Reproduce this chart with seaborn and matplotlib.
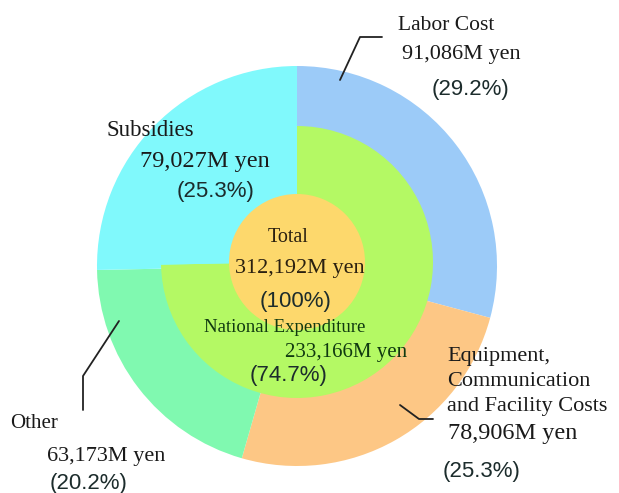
import matplotlib
matplotlib.use("Agg")
import matplotlib.pyplot as plt
import seaborn as sns

# ---- data ----
outer_labels = ["Labor Cost", "Equipment, Communication and Facility Costs", "Other", "Subsidies"]
outer_values = [91086, 78906, 63173, 79027]          # M yen
outer_pcts = [29.2, 25.3, 20.2, 25.3]
inner_labels = ["National Expenditure", "Subsidies"]
inner_values = [233166, 79027]
inner_pcts = [74.7, 25.3]
total_value = 312192
total_pct = 100

outer_colors = ["#9ccbf8", "#fdc785", "#80f9b0", "#80f9fc"]
inner_colors = ["#b4f964", "#80f9fc"]
center_color = "#fdd86c"

sns.set_theme(style="white")
plt.rcParams["font.family"] = ["Liberation Serif", "DejaVu Serif"]

W, H = 619, 493
fig = plt.figure(figsize=(W / 100, H / 100), dpi=100)
ax = fig.add_axes([0, 0, 1, 1])

def Y(y):
    return H - y

cx, cy = 297, 266
R = 200
icx, icy = 297, 262
Ri = 136
Rc = 68

ax.pie(outer_values, colors=outer_colors, startangle=90, counterclock=False,
       radius=R, center=(cx, Y(cy)), wedgeprops=dict(linewidth=0))
ax.pie(inner_values, colors=inner_colors, startangle=90, counterclock=False,
       radius=Ri, center=(icx, Y(icy)), wedgeprops=dict(width=Ri - Rc + 1, linewidth=0))
ax.pie([total_value], colors=[center_color], startangle=90, counterclock=False,
       radius=Rc, center=(icx, Y(icy)), wedgeprops=dict(linewidth=0))

ax.set_xlim(0, W)
ax.set_ylim(0, H)
ax.set_aspect("equal")
ax.axis("off")

serif = ["Liberation Serif", "DejaVu Serif"]
sans = ["Liberation Sans", "DejaVu Sans"]
tc = "#1a1a1a"
pc = "#1c2c2c"

def fmt(v):
    return f"{v:,}M yen"

def pct(p):
    s = f"{p:.1f}" if p != 100 else "100"
    return f"({s}%)"

def txt(x, y, s, size, fam=serif, color=tc, ha="left"):
    ax.text(x, Y(y), s, fontsize=size, family=fam, color=color, ha=ha, va="center")

# Labor Cost
txt(398, 25, outer_labels[0], 15.5)
txt(402, 54, fmt(outer_values[0]), 16)
txt(432, 90, pct(outer_pcts[0]), 16, sans, pc)
ax.plot([340, 360, 382], [Y(80), Y(37), Y(37)], color="#222222", lw=1.3)

# Subsidies
txt(107, 131, outer_labels[3], 16.5)
txt(140, 161, fmt(outer_values[3]), 17.5)
txt(177, 191, pct(outer_pcts[3]), 16, sans, pc)

# Equipment
txt(447, 356, "Equipment,", 16)
txt(447, 381, "Communication", 16)
txt(447, 406, "and Facility Costs", 16)
txt(448, 434, fmt(outer_values[1]), 17.5)
txt(443, 472, pct(outer_pcts[1]), 16, sans, pc)
ax.plot([400, 419, 433], [Y(405), Y(419), Y(419)], color="#222222", lw=1.3)

# Other
txt(10, 423, outer_labels[2], 15)
txt(47, 457, fmt(outer_values[2]), 16)
txt(50, 484, pct(outer_pcts[2]), 16, sans, pc)
ax.plot([119, 83, 83], [Y(321), Y(376), Y(410)], color="#222222", lw=1.3)

# Center
bc = "#2a2010"
txt(288, 238, "Total", 14.5, color=bc, ha="center")
txt(300, 269, fmt(total_value), 16, color=bc, ha="center")
txt(296, 302, pct(total_pct), 16, sans, pc, ha="center")

gc = "#103a10"
txt(285, 328, inner_labels[0], 13.5, color=gc, ha="center")
txt(346, 353, fmt(inner_values[0]), 15, color=gc, ha="center")
txt(289, 376, pct(inner_pcts[0]), 16, sans, pc, ha="center")

fig.savefig("out.png", dpi=100, facecolor="white")
